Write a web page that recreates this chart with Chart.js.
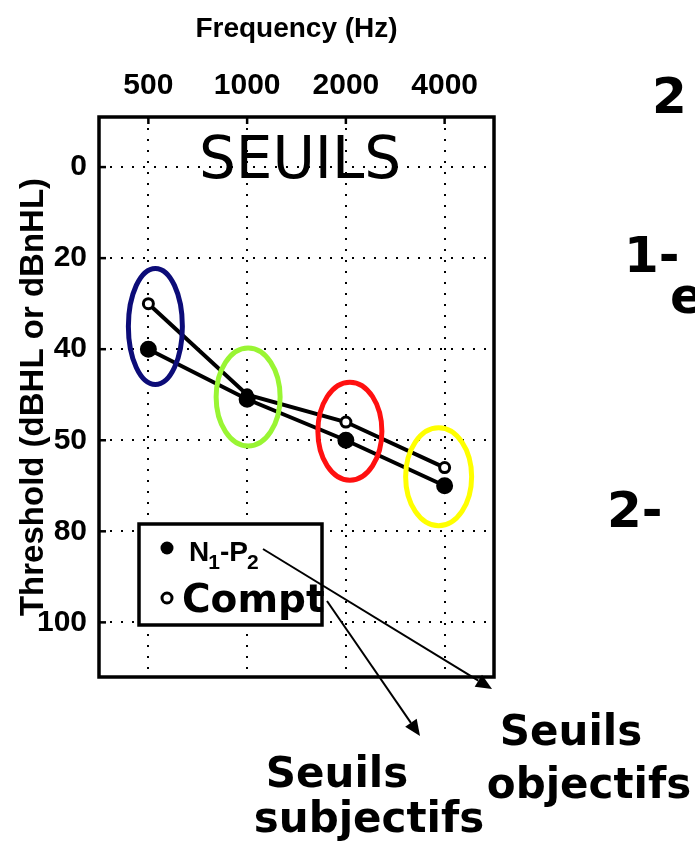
<!DOCTYPE html>
<html>
<head>
<meta charset="utf-8">
<title>Seuils</title>
<script src="https://cdn.jsdelivr.net/npm/chart.js@4.4.1/dist/chart.umd.min.js"></script>
<style>
  html, body { margin: 0; padding: 0; background: #fff; }
  #wrap { position: relative; width: 695px; height: 853px; }
</style>
</head>
<body>
<div id="wrap"><canvas id="seuils-chart" width="695" height="853"></canvas></div>
<script>
// fréquences testées et seuils (dB)
const frequencies = ['500', '1000', '2000', '4000'];
const n1p2Thresholds = [40, 51, 60, 70];    // N1-P2 (seuils objectifs)
const comptThresholds = [30, 50, 56, 66];   // Compt (seuils subjectifs)
const thresholdTicks = [0, 20, 40, 60, 80, 100];
const thresholdTickLabels = ['0', '20', '40', '50', '80', '100'];

const AXIS_FONT = "'Liberation Sans Narrow', 'Liberation Sans', Arial, sans-serif";
const BIG_FONT = "'DejaVu Sans', Verdana, sans-serif";

// ellipses de couleur autour de chaque paire de points
const circled = [
    { index: 0, dx: 7, rx: 27, ry: 58, color: '#0c0c78' },
    { index: 1, dx: 1, rx: 32, ry: 49, color: '#99f533' },
    { index: 2, dx: 4, rx: 32, ry: 49, color: '#ff1010' },
    { index: 3, dx: -6, rx: 33, ry: 49, color: '#ffff00' }
];

// cadre épais + petites graduations intérieures
const framePlugin = {
    id: 'frame',
    afterDatasetsDraw(chart) {
        const { ctx, chartArea: a, scales } = chart;
        ctx.save();
        ctx.strokeStyle = '#000';
        ctx.lineWidth = 3.5;
        ctx.strokeRect(a.left, a.top, a.right - a.left, a.bottom - a.top);
        ctx.lineWidth = 2.5;
        thresholdTicks.forEach(v => {
            const y = scales.y.getPixelForValue(v);
            ctx.beginPath();
            ctx.moveTo(a.left, y);
            ctx.lineTo(a.left + 7, y);
            ctx.stroke();
        });
        frequencies.forEach((f, i) => {
            const x = scales.x.getPixelForValue(i);
            ctx.beginPath();
            ctx.moveTo(x, a.top);
            ctx.lineTo(x, a.top + 7);
            ctx.stroke();
        });
        // ellipses
        ctx.lineWidth = 5;
        circled.forEach(c => {
            const mid = (n1p2Thresholds[c.index] + comptThresholds[c.index]) / 2;
            const x = scales.x.getPixelForValue(c.index) + c.dx;
            const y = scales.y.getPixelForValue(mid);
            ctx.strokeStyle = c.color;
            ctx.beginPath();
            ctx.ellipse(x, y, c.rx, c.ry, 0, 0, Math.PI * 2);
            ctx.stroke();
        });
        ctx.restore();
    }
};

function arrow(ctx, x1, y1, x2, y2) {
    const ang = Math.atan2(y2 - y1, x2 - x1);
    const len = 16, half = 7;
    const bx = x2 - len * Math.cos(ang), by = y2 - len * Math.sin(ang);
    ctx.beginPath();
    ctx.moveTo(x1, y1);
    ctx.lineTo(bx, by);
    ctx.stroke();
    ctx.beginPath();
    ctx.moveTo(x2, y2);
    ctx.lineTo(bx + half * Math.sin(ang), by - half * Math.cos(ang));
    ctx.lineTo(bx - half * Math.sin(ang), by + half * Math.cos(ang));
    ctx.closePath();
    ctx.fill();
}

// légende encadrée, titres et flèches
const notesPlugin = {
    id: 'notes',
    afterDraw(chart) {
        const ctx = chart.ctx;
        ctx.save();
        ctx.fillStyle = '#000';
        ctx.strokeStyle = '#000';

        ctx.font = '58px ' + BIG_FONT;
        ctx.textAlign = 'center';
        ctx.textBaseline = 'alphabetic';
        ctx.fillText('SEUILS', 300, 178);

        // cadre de légende
        ctx.lineWidth = 3.5;
        ctx.fillStyle = '#fff';
        ctx.fillRect(139, 524, 183, 101);
        ctx.strokeRect(139, 524, 183, 101);
        ctx.fillStyle = '#000';
        ctx.beginPath();
        ctx.arc(167, 548, 6.5, 0, Math.PI * 2);
        ctx.fill();
        ctx.beginPath();
        ctx.arc(167, 598, 5, 0, Math.PI * 2);
        ctx.fillStyle = '#fff';
        ctx.fill();
        ctx.lineWidth = 3;
        ctx.stroke();
        ctx.fillStyle = '#000';

        ctx.textAlign = 'left';
        let x = 189;
        const parts = [['N', 0], ['1', 1], ['-P', 0], ['2', 1]];
        parts.forEach(([t, sub]) => {
            ctx.font = (sub ? 'bold 21px ' : 'bold 28px ') + AXIS_FONT;
            ctx.fillText(t, x, sub ? 569 : 561);
            x += ctx.measureText(t).width - (sub ? 0 : 1);
        });
        ctx.font = 'bold 39px ' + BIG_FONT;
        ctx.fillText('Compt', 182, 612);

        // flèches
        ctx.lineWidth = 2;
        arrow(ctx, 263, 549, 492, 689);
        arrow(ctx, 327, 601, 420, 736);

        ctx.font = 'bold 42px ' + BIG_FONT;
        ctx.textAlign = 'center';
        ctx.fillText('Seuils', 571, 745);
        ctx.fillText('objectifs', 589, 798);
        ctx.fillText('Seuils', 337, 787);
        ctx.fillText('subjectifs', 369, 832);

        // texte de la diapo, coupé à droite
        ctx.font = 'bold 50px ' + BIG_FONT;
        ctx.textAlign = 'left';
        ctx.fillText('2', 652, 113);
        ctx.fillText('1-', 624, 272);
        ctx.fillText('e', 670, 313);
        ctx.fillText('2-', 607, 527);
        ctx.restore();
    }
};

const dotted = {
    display: true,
    color: '#000',
    lineWidth: 2,
    drawTicks: false
};

new Chart(document.getElementById('seuils-chart'), {
    type: 'line',
    data: {
        datasets: [
            {
                label: 'N1-P2',
                data: n1p2Thresholds.map((v, i) => ({ x: i, y: v })),
                borderColor: '#000',
                borderWidth: 4,
                pointRadius: 6.5,
                pointBackgroundColor: '#000',
                pointBorderColor: '#000',
                tension: 0
            },
            {
                label: 'Compt',
                data: comptThresholds.map((v, i) => ({ x: i, y: v })),
                borderColor: '#000',
                borderWidth: 4,
                pointRadius: 5,
                pointBorderWidth: 3,
                pointBackgroundColor: '#fff',
                pointBorderColor: '#000',
                tension: 0
            }
        ]
    },
    options: {
        responsive: false,
        animation: false,
        layout: { padding: { left: 0, top: 0, right: 201, bottom: 176 } },
        plugins: {
            legend: { display: false },
            tooltip: { enabled: false }
        },
        scales: {
            x: {
                type: 'linear',
                position: 'top',
                min: -0.5,
                max: 3.5,
                afterBuildTicks(scale) {
                    scale.ticks = frequencies.map((f, i) => ({ value: i }));
                },
                afterFit(scale) { scale.height = 117; },
                ticks: {
                    callback: v => frequencies[v],
                    color: '#000',
                    padding: 13,
                    maxRotation: 0,
                    font: { family: AXIS_FONT, size: 30, weight: 'bold' }
                },
                grid: { ...dotted },
                border: { display: false, dash: [2, 9] },
                title: {
                    display: true,
                    text: 'Frequency (Hz)',
                    color: '#000',
                    padding: { top: 12, bottom: 0 },
                    font: { family: AXIS_FONT, size: 28, weight: 'bold' }
                }
            },
            y: {
                type: 'linear',
                reverse: true,
                min: -11,
                max: 112,
                afterBuildTicks(scale) {
                    scale.ticks = thresholdTicks.map(v => ({ value: v }));
                },
                afterFit(scale) { scale.width = 99; },
                ticks: {
                    callback: v => thresholdTickLabels[thresholdTicks.indexOf(v)],
                    color: '#000',
                    padding: 12,
                    font: { family: AXIS_FONT, size: 30, weight: 'bold' }
                },
                grid: { ...dotted },
                border: { display: false, dash: [2, 9] },
                title: {
                    display: true,
                    text: 'Threshold (dBHL or dBnHL)',
                    color: '#000',
                    padding: { top: 14, bottom: 0 },
                    font: { family: AXIS_FONT, size: 33, weight: 'bold' }
                }
            }
        }
    },
    plugins: [framePlugin, notesPlugin]
});
</script>
</body>
</html>
